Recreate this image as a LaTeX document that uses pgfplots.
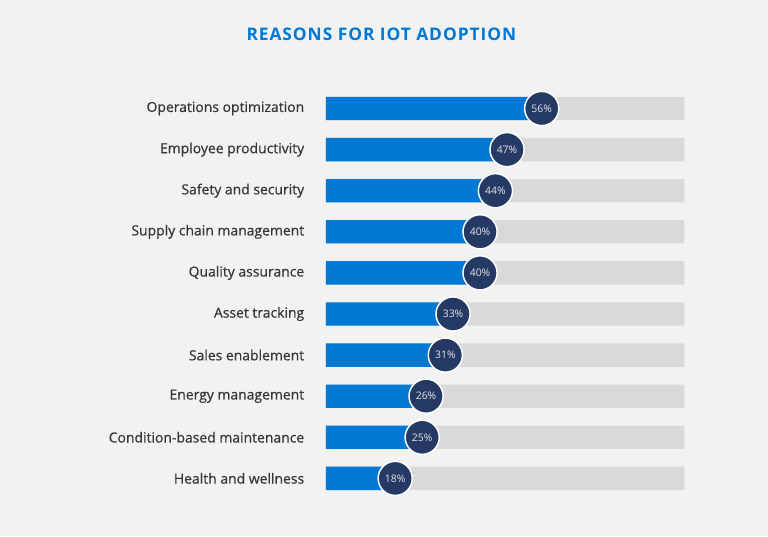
\documentclass[border=0pt]{standalone}
\usepackage{pgfplots}
\pgfplotsset{compat=1.18}
\usepackage{fontspec}
\setmainfont{Open Sans}
\newfontfamily\semib{Open Sans}[BoldFont={Open Sans}, BoldFeatures={FakeBold=0.6}]
\definecolor{bg}{HTML}{F2F2F2}
\definecolor{msblue}{HTML}{0078D4}
\definecolor{barbg}{HTML}{D9D9D9}
\definecolor{navy}{HTML}{243A64}
\definecolor{lbl}{HTML}{363636}
\begin{document}
\begin{tikzpicture}
\fill[bg] (0,0) rectangle (576pt,-402pt);
\node[font=\fontsize{13}{15}\selectfont\bfseries\addfontfeatures{LetterSpace=5.5}, text=msblue] at (286pt,-26pt) {REASONS FOR IOT ADOPTION};
\begin{axis}[
  at={(244.35pt,-374.2pt)}, anchor=south west,
  scale only axis, width=268.95pt, height=308.25pt,
  xmin=0, xmax=93, ymin=-0.5, ymax=9.5, y dir=reverse,
  axis line style={draw=none}, tick style={draw=none},
  xtick=\empty,
  ytick={0,...,9},
  yticklabels={Operations optimization, Employee productivity, Safety and security, Supply chain management, Quality assurance, Asset tracking, Sales enablement, Energy management, Condition-based maintenance, Health and wellness},
  yticklabel style={anchor=east, inner sep=0pt, xshift=-16pt, font=\semib\bfseries\fontsize{10.45}{12}\selectfont, text=lbl},
  clip=false,
]
\addplot[xbar, bar width=17.5pt, bar shift=0pt, fill=barbg, draw=none] coordinates {(93,0) (93,1) (93,2) (93,3) (93,4) (93,5) (93,6) (93,7) (93,8) (93,9)};
\addplot[xbar, bar width=17.5pt, bar shift=0pt, fill=msblue, draw=none] coordinates {(56,0) (47,1) (44,2) (40,3) (40,4) (33,5) (31,6) (26,7) (25,8) (18,9)};
\addplot[only marks, mark=*, mark size=12.8pt, mark options={fill=navy, draw=white, line width=1.1pt},
  point meta=x, nodes near coords={\pgfmathprintnumber[assume math mode=true]{\pgfplotspointmeta}\%},
  nodes near coords style={anchor=center, font=\fontsize{7.8}{9}\selectfont, text=white!90!black}]
  coordinates {(56,0) (47,1) (44,2) (40,3) (40,4) (33,5) (31,6) (26,7) (25,8) (18,9)};
\end{axis}
\end{tikzpicture}
\end{document}
